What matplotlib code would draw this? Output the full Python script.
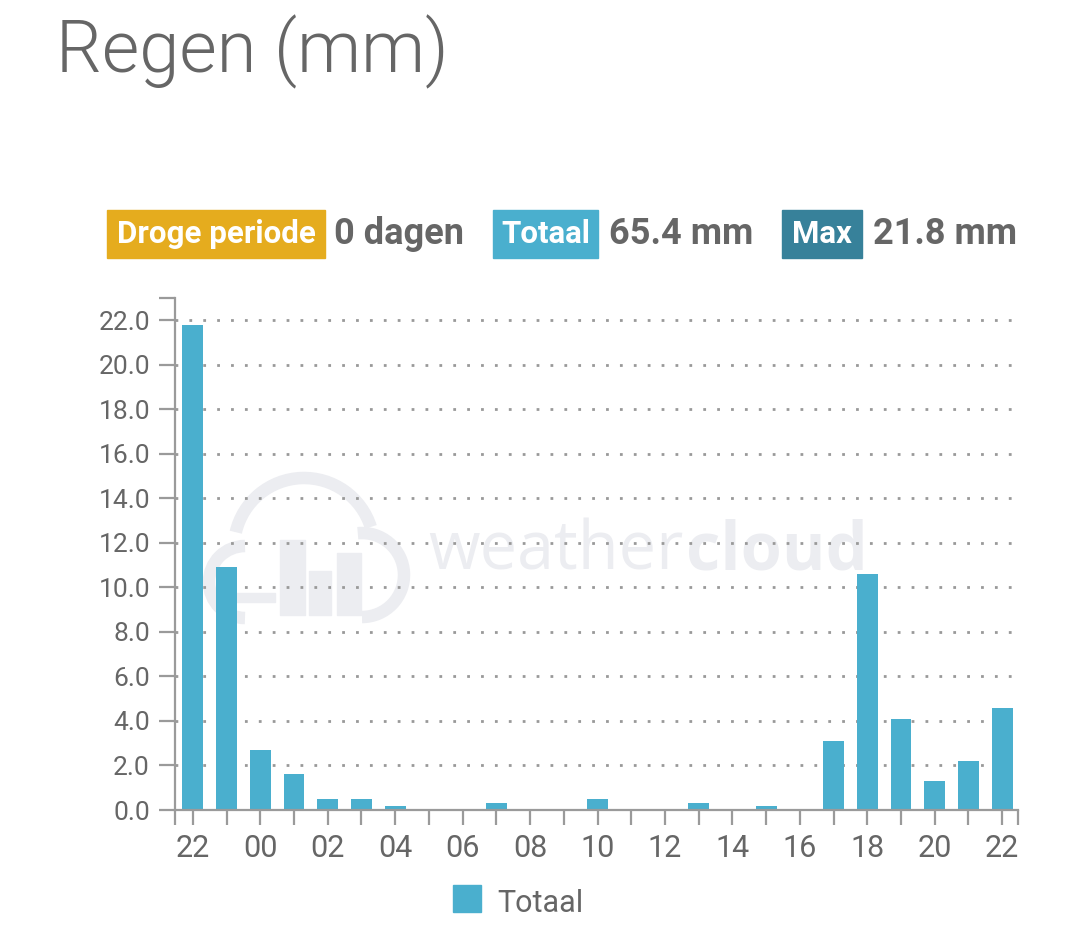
import matplotlib.pyplot as plt
import numpy as np
from matplotlib.patches import Rectangle, Arc

hours = ["22", "23", "00", "01", "02", "03", "04", "05", "06", "07", "08", "09",
         "10", "11", "12", "13", "14", "15", "16", "17", "18", "19", "20", "21", "22"]
rain = [21.8, 10.9, 2.7, 1.6, 0.5, 0.5, 0.2, 0.0, 0.0, 0.3, 0.0, 0.0,
        0.5, 0.0, 0.0, 0.3, 0.0, 0.2, 0.0, 3.1, 10.6, 4.1, 1.3, 2.2, 4.6]
y_ticks = [0, 2, 4, 6, 8, 10, 12, 14, 16, 18, 20, 22]
badges = [("Droge periode", "0 dagen", "#E5AC1E"),
          ("Totaal", "65.4 mm", "#4AAFCE"),
          ("Max", "21.8 mm", "#37819A")]

W, H = 1080, 933
BLUE = "#4AAFCE"
GREY = "#666666"
AXC = "#9a9a9a"
WM = "#ECEDF1"

plt.rcParams["font.family"] = ["Roboto", "DejaVu Sans"]

fig = plt.figure(figsize=(W / 100, H / 100), dpi=100)


def fx(px):
    return px / W


def fy(py):
    return 1 - py / H


# watermark (behind everything)
t_w = fig.text(fx(428), fy(570), "weather", fontfamily="Open Sans", fontweight="normal",
               fontsize=48, color=WM, zorder=-2, va="baseline")
fig.canvas.draw()
ext = t_w.get_window_extent()
fig.text(ext.x1 / W + 0.002, fy(570), "cloud", fontfamily="Open Sans", fontweight="bold",
         fontsize=48, color=WM, zorder=-2, va="baseline")
for cx, cy, r, t1, t2 in [(245, 582, 36, 90, 270), (304, 548, 70, 20, 165),
                          (362, 575, 42, -90, 95)]:
    fig.add_artist(Arc((fx(cx), fy(cy)), 2 * r / W, 2 * r / H, theta1=t1, theta2=t2,
                       transform=fig.transFigure, color=WM, lw=9, zorder=-2))
fig.add_artist(Rectangle((fx(230), fy(602)), 45 / W, 9 / H, transform=fig.transFigure,
                         color=WM, zorder=-2))
for x0, x1, top in [(280, 305, 540), (309, 331, 571), (337, 361, 553)]:
    fig.add_artist(Rectangle((fx(x0), fy(615)), (x1 - x0) / W, (615 - top) / H,
                             transform=fig.transFigure, color=WM, zorder=-2))

# title
fig.text(fx(56), fy(72), "Regen (mm)", fontsize=52, fontweight=300, color=GREY,
         va="baseline")

# badges
bx = [(107, 325, 334), (493, 598, 609), (782, 862, 873)]
for (lab, val, col), (x0, x1, xv) in zip(badges, bx):
    fig.add_artist(Rectangle((fx(x0), fy(258)), (x1 - x0) / W, 48 / H,
                             transform=fig.transFigure, color=col))
    fig.text(fx((x0 + x1) / 2), fy(243), lab, fontsize=22.5, fontweight="bold",
             color="white", ha="center", va="baseline")
    fig.text(fx(xv), fy(244), val, fontsize=26, fontweight="bold", color=GREY,
             va="baseline")

ax = fig.add_axes([fx(175), fy(810), (1018 - 175) / W, (810 - 298) / H])
ax.patch.set_alpha(0)
x = np.arange(len(rain))
ax.bar(x, rain, width=0.62, color=BLUE, zorder=3)

ax.set_xlim(-0.53, 24.47)
ax.set_ylim(0, 23)
ax.set_xticks(x)
ax.set_xticklabels([h if i % 2 == 0 else "" for i, h in enumerate(hours)])
ax.set_xticks([-0.53, 24.47], minor=True)
ax.set_yticks(y_ticks)
ax.set_yticklabels(["%.1f" % v for v in y_ticks])
ax.set_yticks([23], minor=True)

ax.tick_params(axis="x", which="both", length=11, width=1.6, color=AXC, pad=6.5,
               labelsize=22, labelcolor=GREY)
ax.tick_params(axis="y", which="both", length=11.5, width=1.6, color=AXC, pad=6.5,
               labelsize=19, labelcolor=GREY)

for s in ["top", "right"]:
    ax.spines[s].set_visible(False)
for s in ["left", "bottom"]:
    ax.spines[s].set_color(AXC)
    ax.spines[s].set_linewidth(1.6)
    ax.spines[s].set_zorder(4)

ax.set_axisbelow(True)
ax.yaxis.grid(True, color="#999999", linewidth=2, linestyle=(0, (1, 4)))

# legend
fig.add_artist(Rectangle((fx(453), fy(912)), 28 / W, 27 / H, transform=fig.transFigure,
                         color=BLUE))
fig.text(fx(497), fy(912), "Totaal", fontsize=22, color=GREY, va="baseline")

fig.savefig("out.png", dpi=100)
